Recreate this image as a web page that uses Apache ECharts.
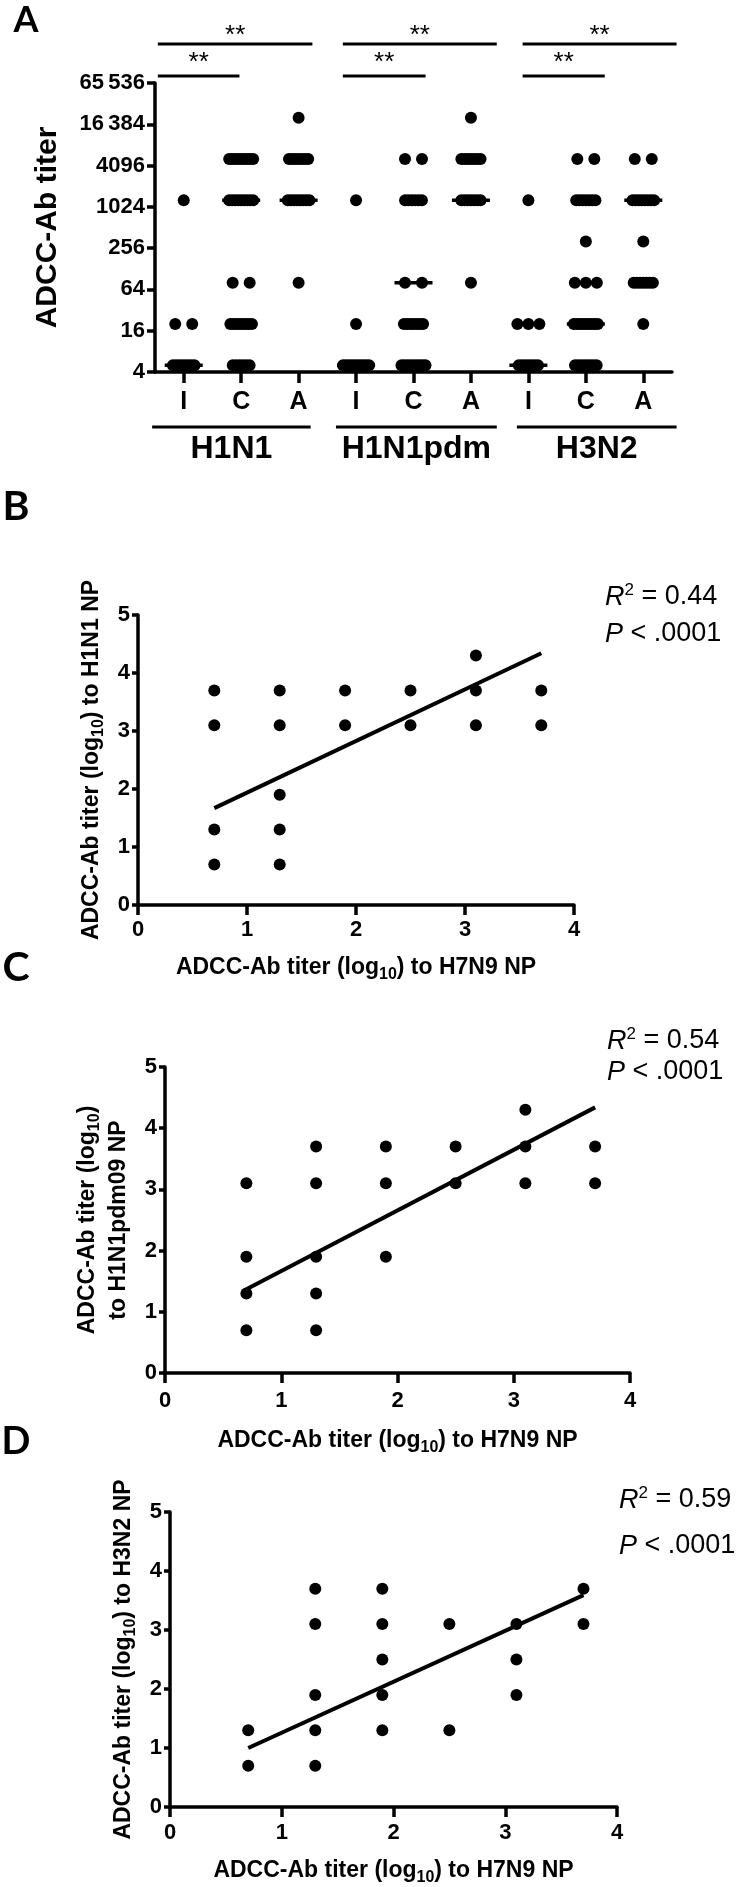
<!DOCTYPE html>
<html>
<head>
<meta charset="utf-8">
<script src="https://cdn.jsdelivr.net/npm/echarts@6/dist/echarts.min.js"></script>
<style>
html,body{margin:0;padding:0;background:#fff}
#chart{width:750px;height:1887px}
</style>
</head>
<body>
<div id="chart"></div>
<script>
// ---------------- DATA ----------------
// Panel A: ADCC-Ab titer levels and number of subjects at each level
const levels = [5, 20, 80, 320, 1280, 5120, 20480];
const cohorts = ['I', 'C', 'A'];
const strains = ['H1N1', 'H1N1pdm', 'H3N2'];
const yTicksA = [4, 16, 64, 256, 1024, 4096, 16384, 65536];
const h1n1_I = [8, 2, 0, 0, 1, 0, 0];
const h1n1_C = [6, 8, 2, 0, 9, 9, 0];
const h1n1_A = [0, 0, 1, 0, 8, 7, 1];
const pdm_I  = [10, 1, 0, 0, 1, 0, 0];
const pdm_C  = [9, 7, 2, 0, 6, 2, 0];
const pdm_A  = [0, 0, 1, 0, 7, 7, 1];
const h3n2_I = [7, 3, 0, 0, 1, 0, 0];
const h3n2_C = [8, 9, 3, 1, 7, 2, 0];
const h3n2_A = [0, 1, 7, 1, 8, 2, 0];
const medians = [5, 1280, 1280, 5, 80, 1280, 5, 20, 1280];
// significance brackets (in category-index units) and strain underlines
const sigMarks = ['**', '**', '**'];
const sigTopFrom = [-0.45, 2.77, 5.90];
const sigTopTo   = [2.24, 5.45, 8.58];
const sigLowFrom = [-0.45, 2.77, 5.90];
const sigLowTo   = [0.97, 4.21, 7.33];
const strainLineFrom = [-0.55, 2.65, 5.80];
const strainLineTo   = [2.21, 5.45, 8.58];

// Panels B-D: log10 titers (x = H7N9 NP)
const bX = [0.7, 0.7, 0.7, 0.7, 1.3, 1.3, 1.3, 1.3, 1.3, 1.9, 1.9, 2.5, 2.5, 3.1, 3.1, 3.1, 3.7, 3.7];
const bY = [3.7, 3.1, 1.3, 0.7, 3.7, 3.1, 1.9, 1.3, 0.7, 3.7, 3.1, 3.7, 3.1, 4.3, 3.7, 3.1, 3.7, 3.1];
const bFit = [[0.7, 1.67], [3.7, 4.34]];
const cX = [0.7, 0.7, 0.7, 0.7, 1.3, 1.3, 1.3, 1.3, 1.3, 1.9, 1.9, 1.9, 2.5, 2.5, 3.1, 3.1, 3.1, 3.7, 3.7];
const cY = [3.1, 1.9, 1.3, 0.7, 3.7, 3.1, 1.9, 1.3, 0.7, 3.7, 3.1, 1.9, 3.7, 3.1, 4.3, 3.7, 3.1, 3.7, 3.1];
const cFit = [[0.7, 1.37], [3.7, 4.34]];
const dX = [0.7, 0.7, 1.3, 1.3, 1.3, 1.3, 1.3, 1.9, 1.9, 1.9, 1.9, 1.9, 2.5, 2.5, 3.1, 3.1, 3.1, 3.7, 3.7];
const dY = [1.3, 0.7, 3.7, 3.1, 1.9, 1.3, 0.7, 3.7, 3.1, 2.5, 1.9, 1.3, 3.1, 1.3, 3.1, 2.5, 1.9, 3.7, 3.1];
const dFit = [[0.7, 1.0], [3.7, 3.59]];
const statR2 = ['0.44', '0.54', '0.59'];
const statP = ['.0001', '.0001', '.0001'];

// ---------------- LAYOUT ----------------
const SANS = "'Liberation Sans', Arial, Helvetica, sans-serif";
const LETTER = "Lato, 'Open Sans', sans-serif";
const gridA = {left: 155, top: 83, width: 517, height: 289};
const gridB = {left: 138, top: 615, width: 436, height: 290};
const gridC = {left: 165, top: 1067, width: 465, height: 306};
const gridD = {left: 170, top: 1512, width: 447, height: 295};
const PX_PER_CAT = gridA.width / 9;
const LW = 3.5;

function offsetsPx(n) {
  if (n === 1) return [0];
  if (n === 2) return [-8.5, 8.5];
  if (n === 3) return [-11, 0, 11];
  const span = Math.min(26, 12 + (n - 4) * 2.4);
  const out = [];
  for (let k = 0; k < n; k++) out.push(-span / 2 + k * span / (n - 1));
  return out;
}
const columns = [h1n1_I, h1n1_C, h1n1_A, pdm_I, pdm_C, pdm_A, h3n2_I, h3n2_C, h3n2_A];
const dotsA = [];
columns.forEach((col, ci) => {
  col.forEach((n, li) => {
    if (!n) return;
    offsetsPx(n).forEach(o => dotsA.push([ci + o / PX_PER_CAT, levels[li]]));
  });
});
const catLabels = [];
strains.forEach(() => cohorts.forEach(c => catLabels.push(c)));

const zip = (xs, ys) => xs.map((x, i) => [x, ys[i]]);

const richTitle = {
  m: {fontSize: 23, fontWeight: 'bold', fontFamily: SANS, color: '#000', lineHeight: 31},
  s: {fontSize: 16, fontWeight: 'bold', fontFamily: SANS, color: '#000', lineHeight: 14, verticalAlign: 'bottom'}
};
const xTitle = '{m|ADCC-Ab titer (log}{s|10}{m|) to H7N9 NP}';
const tickLabel = {fontSize: 22, fontWeight: 'bold', fontFamily: SANS, color: '#000'};
const axisLineS = {show: true, onZero: false, lineStyle: {color: '#000', width: LW}};
const dotStyle = {color: '#000', opacity: 1, borderWidth: 0};

function valX(grid, gap, lm) {
  return {
    type: 'value', gridIndex: grid, min: 0, max: 4, interval: 1,
    axisLine: axisLineS,
    axisTick: {show: true, length: 10, lineStyle: {color: '#000', width: LW}},
    axisLabel: Object.assign({margin: lm}, tickLabel),
    splitLine: {show: false},
    name: xTitle, nameLocation: 'middle', nameGap: gap,
    nameTextStyle: {rich: richTitle}
  };
}
function valY(grid, name, gap) {
  return {
    type: 'value', gridIndex: grid, min: 0, max: 5, interval: 1,
    axisLine: axisLineS,
    axisTick: {show: true, length: 6, lineStyle: {color: '#000', width: LW}},
    axisLabel: Object.assign({margin: 8}, tickLabel),
    splitLine: {show: false},
    name: name, nameLocation: 'middle', nameGap: gap,
    nameTextStyle: {rich: richTitle, align: 'center'}
  };
}
function statText(x, y1, y2, r2, p) {
  const rich = {
    i: {fontSize: 27, fontFamily: SANS, fontStyle: 'italic', color: '#000', lineHeight: 30},
    n: {fontSize: 27, fontFamily: SANS, color: '#000', lineHeight: 30},
    p: {fontSize: 17, fontFamily: SANS, color: '#000', lineHeight: 17, verticalAlign: 'top'}
  };
  return [
    {type: 'text', x: x, y: y1, style: {text: '{i|R}{p|2}{n| = ' + r2 + '}', rich: rich, verticalAlign: 'middle', align: 'left'}},
    {type: 'text', x: x, y: y2, style: {text: '{i|P}{n| < ' + p + '}', rich: rich, verticalAlign: 'middle', align: 'left'}}
  ];
}
function letter(t, x, y, fs) {
  return {type: 'text', x: x, y: y, style: {text: t, fontSize: fs, fontWeight: 'bold', fontFamily: LETTER, fill: '#000', align: 'center', verticalAlign: 'middle'}};
}

const chart = echarts.init(document.getElementById('chart'), null, {renderer: 'canvas'});
const option = {
  animation: false,
  backgroundColor: '#fff',
  grid: [gridA, gridB, gridC, gridD].map(g => Object.assign({containLabel: false, outerBoundsMode: 'none'}, g)),
  xAxis: [
    {
      type: 'category', gridIndex: 0, data: catLabels, boundaryGap: true,
      axisLine: axisLineS,
      axisTick: {show: true, alignWithLabel: true, length: 11, lineStyle: {color: '#000', width: LW}},
      axisLabel: {margin: 18, fontSize: 25, fontWeight: 'bold', fontFamily: SANS, color: '#000', interval: 0},
      splitLine: {show: false}
    },
    {type: 'value', gridIndex: 0, min: -0.5, max: 8.5, show: false},
    valX(1, 47, 14),
    valX(2, 52, 17),
    valX(3, 48, 15)
  ],
  yAxis: [
    {
      type: 'log', logBase: 4, gridIndex: 0, min: yTicksA[0], max: yTicksA[yTicksA.length - 1],
      axisLine: axisLineS,
      axisTick: {show: true, length: 8, lineStyle: {color: '#000', width: LW}},
      axisLabel: Object.assign({margin: 10, showMinLabel: true, showMaxLabel: true,
        formatter: v => { const s = String(Math.round(v)); return s.length > 4 ? s.slice(0, s.length - 3) + '\u2009' + s.slice(-3) : s; }
      }, tickLabel),
      splitLine: {show: false},
      name: 'ADCC-Ab titer', nameLocation: 'middle', nameGap: 92,
      nameTextStyle: {fontSize: 30, fontWeight: 'bold', fontFamily: SANS, color: '#000'}
    },
    valY(1, '{m|ADCC-Ab titer (log}{s|10}{m|) to H1N1 NP}', 23),
    valY(2, '{m|ADCC-Ab titer (log}{s|10}{m|)}\n{m|to H1N1pdm09 NP}', 31),
    valY(3, '{m|ADCC-Ab titer (log}{s|10}{m|) to H3N2 NP}', 27)
  ],
  series: [
    {type: 'scatter', xAxisIndex: 1, yAxisIndex: 0, data: dotsA, symbolSize: 12, itemStyle: dotStyle, silent: true},
    {type: 'scatter', xAxisIndex: 1, yAxisIndex: 0, data: medians.map((m, i) => [i, m]), symbol: 'rect', symbolSize: [38, 3.5], itemStyle: dotStyle, silent: true, z: 3},
    {
      type: 'custom', xAxisIndex: 1, yAxisIndex: 0, clip: false, silent: true,
      data: strains.map((s, i) => [i, 4]),
      renderItem: function (params, api) {
        const i = params.dataIndex;
        const cs = params.coordSys;
        const px = v => api.coord([v, 4])[0];
        const top = cs.y, bottom = cs.y + cs.height;
        const ln = (a, b, y) => ({type: 'line', shape: {x1: px(a), y1: y, x2: px(b), y2: y}, style: {stroke: '#000', lineWidth: 3}});
        const tx = (t, x, y, fs, fw) => ({type: 'text', style: {text: t, x: x, y: y, fill: '#000', fontSize: fs, fontWeight: fw, fontFamily: SANS, align: 'center', verticalAlign: 'middle'}});
        return {
          type: 'group',
          children: [
            ln(sigTopFrom[i], sigTopTo[i], top - 39),
            ln(sigLowFrom[i], sigLowTo[i], top - 7),
            tx(sigMarks[i], (px(sigTopFrom[i]) + px(sigTopTo[i])) / 2, top - 47, 26, 'normal'),
            tx(sigMarks[i], (px(sigLowFrom[i]) + px(sigLowTo[i])) / 2, top - 20, 26, 'normal'),
            ln(strainLineFrom[i], strainLineTo[i], bottom + 55),
            tx(strains[i], (px(strainLineFrom[i]) + px(strainLineTo[i])) / 2, bottom + 77, 32, 'bold')
          ]
        };
      }
    },
    {type: 'scatter', xAxisIndex: 2, yAxisIndex: 1, data: zip(bX, bY), symbolSize: 12, itemStyle: dotStyle, silent: true},
    {type: 'scatter', xAxisIndex: 3, yAxisIndex: 2, data: zip(cX, cY), symbolSize: 12, itemStyle: dotStyle, silent: true},
    {type: 'scatter', xAxisIndex: 4, yAxisIndex: 3, data: zip(dX, dY), symbolSize: 12, itemStyle: dotStyle, silent: true},
    {type: 'line', xAxisIndex: 2, yAxisIndex: 1, data: bFit, showSymbol: false, symbol: 'none', lineStyle: {color: '#000', width: 4}, silent: true},
    {type: 'line', xAxisIndex: 3, yAxisIndex: 2, data: cFit, showSymbol: false, symbol: 'none', lineStyle: {color: '#000', width: 4}, silent: true},
    {type: 'line', xAxisIndex: 4, yAxisIndex: 3, data: dFit, showSymbol: false, symbol: 'none', lineStyle: {color: '#000', width: 4}, silent: true}
  ],
  graphic: [
    letter('A', 26, 20, 36),
    letter('B', 16, 507, 41),
    letter('C', 16, 968, 41),
    letter('D', 16, 1442, 38)
  ].concat(
    statText(605, 597, 634, statR2[0], statP[0]),
    statText(607, 1041, 1072, statR2[1], statP[1]),
    statText(619, 1500, 1546, statR2[2], statP[2])
  )
};
chart.setOption(option);
</script>
</body>
</html>
